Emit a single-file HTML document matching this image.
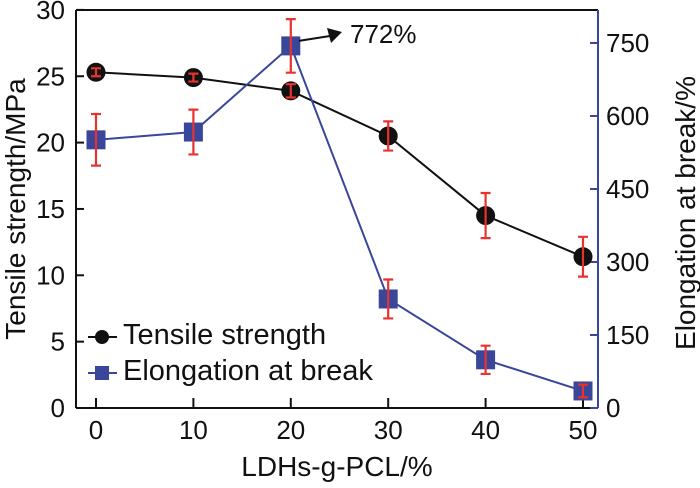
<!DOCTYPE html>
<html><head><meta charset="utf-8"><style>
body{margin:0;background:#fff}
svg text{font-family:"Liberation Sans",sans-serif;fill:#111}
</style></head><body>
<svg id="chart" width="700" height="483" xmlns="http://www.w3.org/2000/svg"></svg>
<script>
const categories=[0,10,20,30,40,50];
const tensile=[25.3,24.9,23.9,20.5,14.5,11.4];
const tensileErr=[0.3,0.3,0.5,1.1,1.7,1.5];
const elong=[551,567,744,224,99,35];
const elongErr=[53,46,55,40,29,13];
const leftTicks=[0,5,10,15,20,25,30];
const rightTicks=[0,150,300,450,600,750];
const xTicks=[0,10,20,30,40,50];

const NS='http://www.w3.org/2000/svg';
const svg=document.getElementById('chart');
const L=76,R=598,T=10,B=408;
const xS=v=>96+v*9.74;
const yL=v=>B-v*13.27;
const yR=v=>B-v*0.4867;
const blue='#3a4699',red='#e8322e';
function mk(tag,a,name,parent){const e=document.createElementNS(NS,tag);for(const k in a)e.setAttribute(k,a[k]);


(parent||svg).appendChild(e);return e;}
function txt(s,a,name){const e=mk('text',a,name);e.textContent=s;return e;}
mk('line',{x1:L,y1:T,x2:R,y2:T,stroke:'#111','stroke-width':2},'top-spine');
mk('line',{x1:L,y1:T,x2:L,y2:B,stroke:'#111','stroke-width':2},'left-axis');
mk('line',{x1:L,y1:B,x2:R,y2:B,stroke:'#111','stroke-width':2},'x-axis');
mk('line',{x1:R,y1:T,x2:R,y2:B,stroke:blue,'stroke-width':2},'right-axis');
leftTicks.forEach(v=>{const y=yL(v);
mk('line',{x1:L,y1:y,x2:L+8,y2:y,stroke:'#111','stroke-width':2},'left-tick');
txt(String(v),{x:L-11,y:y+9,'font-size':26,'text-anchor':'end'},'left-tick-label');});
rightTicks.forEach(v=>{const y=yR(v);
mk('line',{x1:R-8,y1:y,x2:R,y2:y,stroke:blue,'stroke-width':2},'right-tick');
txt(String(v),{x:R+8,y:y+9,'font-size':26},'right-tick-label');});
xTicks.forEach(v=>{const x=xS(v);
mk('line',{x1:x,y1:B,x2:x,y2:B-10,stroke:'#111','stroke-width':2},'x-tick');
txt(String(v),{x:x,y:B+31,'font-size':26,'text-anchor':'middle'},'x-tick-label');});
txt('LDHs-g-PCL/%',{x:337,y:476,'font-size':28,'text-anchor':'middle'},'x-axis-title');
txt('Tensile strength/MPa',{x:0,y:0,'font-size':28,'text-anchor':'middle',transform:'translate(25,209) rotate(-90)'},'left-axis-title');
txt('Elongation at break/%',{x:0,y:0,'font-size':28,'text-anchor':'middle',transform:'translate(695,213) rotate(-90)'},'right-axis-title');
mk('polyline',{points:categories.map((c,i)=>xS(c)+','+yL(tensile[i])).join(' '),fill:'none',stroke:'#111','stroke-width':2},'tensile-line');
mk('polyline',{points:categories.map((c,i)=>xS(c)+','+yR(elong[i])).join(' '),fill:'none',stroke:blue,'stroke-width':2},'elongation-line');
function err(x,y1,y2,name){mk('path',{d:`M${x},${y1}V${y2}M${x-5},${y1}H${x+5}M${x-5},${y2}H${x+5}`,stroke:red,'stroke-width':2.2,fill:'none'},name);}
categories.forEach((c,i)=>{const x=xS(c),y=yR(elong[i]);
mk('rect',{x:x-9.5,y:y-9.5,width:19,height:19,fill:blue},'elongation-point');
err(x,yR(elong[i]+elongErr[i]),yR(elong[i]-elongErr[i]),'elongation-error-bar');});
categories.forEach((c,i)=>{const x=xS(c),y=yL(tensile[i]);
mk('circle',{cx:x,cy:y,r:9.5,fill:'#111'},'tensile-point');
err(x,yL(tensile[i]+tensileErr[i]),yL(tensile[i]-tensileErr[i]),'tensile-error-bar');});
mk('line',{x1:xS(20)+8,y1:yR(elong[2])-5,x2:330,y2:36,stroke:'#111','stroke-width':2},'annotation-arrow');
mk('polygon',{points:'342,32 327,28 331,43',fill:'#111'},'annotation-arrowhead');
txt('772%',{x:350,y:43,'font-size':26},'annotation-label');
mk('line',{x1:88,y1:337,x2:117,y2:337,stroke:'#111','stroke-width':2},'legend-tensile-line');
mk('circle',{cx:102,cy:337,r:7,fill:'#111'},'legend-tensile-marker');
txt('Tensile strength',{x:123,y:344,'font-size':29},'legend-tensile-label');
mk('line',{x1:88,y1:373,x2:117,y2:373,stroke:blue,'stroke-width':2},'legend-elongation-line');
mk('rect',{x:95,y:366,width:14,height:14,fill:blue},'legend-elongation-marker');
txt('Elongation at break',{x:123,y:380,'font-size':29},'legend-elongation-label');
</script>
</body></html>
